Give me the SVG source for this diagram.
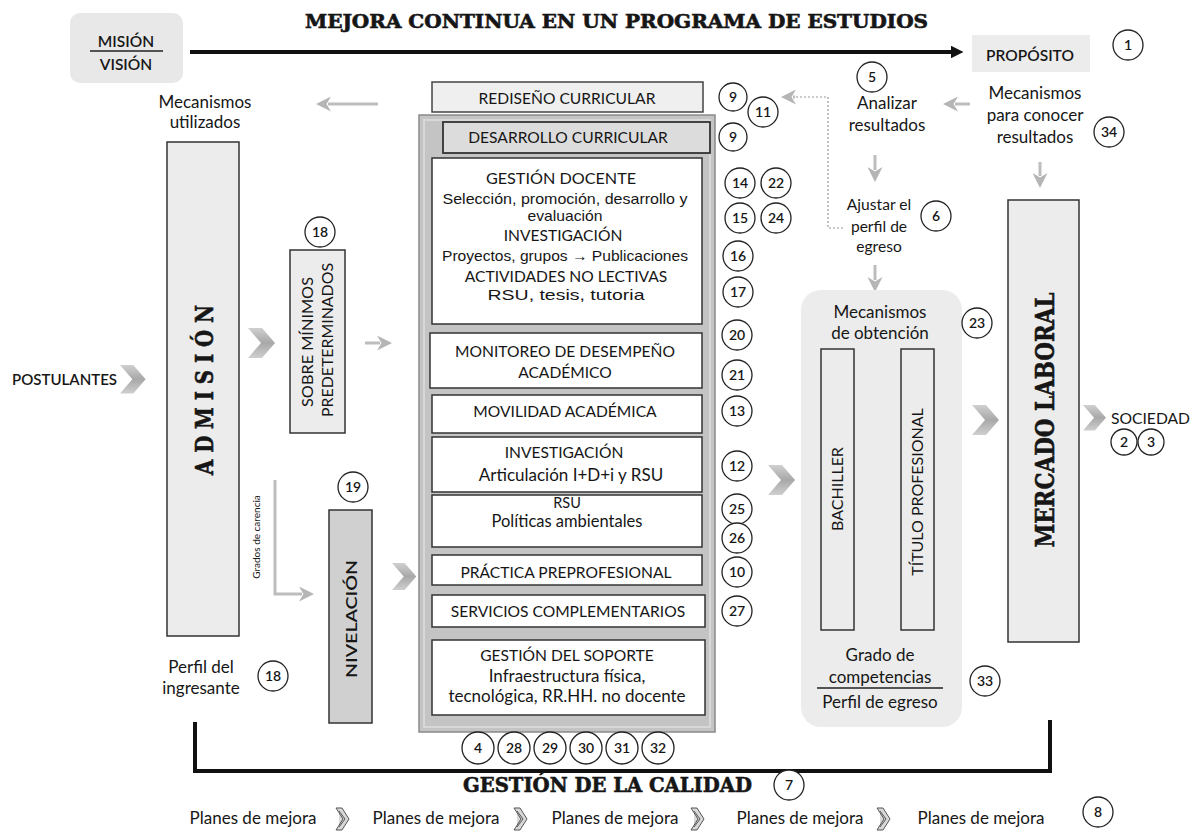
<svg xmlns="http://www.w3.org/2000/svg" width="1201" height="837" viewBox="0 0 1201 837">
<style>
text{font-family:Lato,"Open Sans",sans-serif;fill:#161616}
.slab{font-family:"DejaVu Serif",serif;font-weight:bold;stroke:#161616;stroke-width:0.6}
.cp{font-size:15.6px}
.lw{font-size:17px}
.arial{font-family:"Liberation Sans",Arial,sans-serif;font-size:15px}
.num circle{fill:#fff;stroke:#222;stroke-width:1.3}
.num text{font-size:14px;text-anchor:middle;font-weight:600}
.box{fill:#fff;stroke:#333;stroke-width:1.5}
.lbox{fill:#ececec;stroke:#333;stroke-width:1.5}
.ga{stroke:#bdbdbd;stroke-width:3;fill:none}
.dot{stroke:#9a9a9a;stroke-width:1.2;stroke-dasharray:2 2;fill:none}
.chev{fill:url(#chg)}
.pch{fill:#d8d8d8;stroke:#555;stroke-width:1}
.mid{text-anchor:middle}
</style>
<defs>
<linearGradient id="chg" x1="0" y1="0" x2="0" y2="1">
<stop offset="0" stop-color="#d0d0d0"/><stop offset="0.5" stop-color="#a8a8a8"/><stop offset="1" stop-color="#cfcfcf"/>
</linearGradient>
<marker id="gah2" viewBox="0 0 10 10" refX="2" refY="5" markerWidth="15" markerHeight="15" orient="auto" markerUnits="userSpaceOnUse">
<path d="M0,0 L10,5 L0,10 L3,5 z" fill="#b5b5b5"/>
</marker>
<marker id="bah" viewBox="0 0 10 10" refX="1" refY="5" markerWidth="3.2" markerHeight="3.2" orient="auto" markerUnits="strokeWidth">
<path d="M0,0 L10,5 L0,10 z" fill="#111"/>
</marker>
<path id="chev" d="M0,0 H14 L27,15 L14,30 H0 L13,15 Z"/>
<path id="pchev" d="M0,0 H6 L13,11 L6,22 H0 L7,11 Z M3,3 L9,11 L3,19"/>
</defs>

<text class="slab" x="305" y="28" font-size="18" textLength="623" lengthAdjust="spacingAndGlyphs">MEJORA CONTINUA EN UN PROGRAMA DE ESTUDIOS</text>

<g id="connectors">
<line x1="190" y1="52" x2="952" y2="52" stroke="#111" stroke-width="4" marker-end="url(#bah)"/>
<line x1="378" y1="104" x2="328" y2="104" class="ga" stroke-width="1.5" marker-end="url(#gah2)"/>
<line x1="970" y1="104" x2="955" y2="104" class="ga" stroke-width="3" marker-end="url(#gah2)"/>
<path class="dot" d="M843,228 H828 V97 H795"/>
<line x1="795" y1="97" x2="793" y2="97" class="ga" stroke-width="2" marker-end="url(#gah2)"/>
<line x1="875" y1="155" x2="875" y2="170" class="ga" marker-end="url(#gah2)"/>
<line x1="1040" y1="162" x2="1040" y2="176" class="ga" marker-end="url(#gah2)"/>
<line x1="875" y1="265" x2="875" y2="280" class="ga" marker-end="url(#gah2)"/>
<line x1="365" y1="343" x2="380" y2="343" class="ga" marker-end="url(#gah2)"/>
<path class="ga" d="M275,480 V594 H300" stroke-width="2.5"/>
<line x1="300" y1="594" x2="302" y2="594" class="ga" marker-end="url(#gah2)"/>
<use href="#chev" class="chev" x="120" y="365" transform="translate(120 365) scale(0.95) translate(-120 -365)"/>
<use href="#chev" class="chev" x="248" y="328"/>
<use href="#chev" class="chev" x="392" y="563" transform="translate(392 563) scale(0.9) translate(-392 -563)"/>
<use href="#chev" class="chev" x="768" y="465"/>
<use href="#chev" class="chev" x="866" y="465"/>
<use href="#chev" class="chev" x="972" y="405"/>
<use href="#chev" class="chev" x="1083" y="405" transform="translate(1083 405) scale(0.85) translate(-1083 -405)"/>
<path d="M195,722 V771 H1050 V720" fill="none" stroke="#111" stroke-width="4"/>
<use href="#pchev" class="pch" x="336" y="808"/>
<use href="#pchev" class="pch" x="514" y="808"/>
<use href="#pchev" class="pch" x="691" y="808"/>
<use href="#pchev" class="pch" x="877" y="808"/>
</g>

<g id="mision">
<rect x="70" y="13" width="113" height="70" rx="10" fill="#e8e8e8"/>
<text class="mid" x="126" y="47" font-size="15.5" font-weight="600">MISIÓN</text>
<line x1="90" y1="51" x2="163" y2="51" stroke="#222" stroke-width="1.3"/>
<text class="mid" x="126" y="70" font-size="15.5" font-weight="600">VISIÓN</text>
</g>

<g id="proposito">
<rect x="972" y="35" width="118" height="37" fill="#ececec"/>
<text class="mid" x="1030" y="61" font-size="15.5" font-weight="600">PROPÓSITO</text>
<g class="num"><circle cx="1128" cy="45" r="15"/><text x="1128" y="50">1</text></g>
</g>

<g id="mecanismos-utilizados">
<text class="mid lw" x="205" y="108">Mecanismos</text>
<text class="mid lw" x="205" y="128">utilizados</text>
</g>

<g id="analizar">
<g class="num"><circle cx="872" cy="77" r="15"/><text x="872" y="82">5</text></g>
<text class="mid lw" x="887" y="109">Analizar</text>
<text class="mid lw" x="887" y="131">resultados</text>
</g>

<g id="mecanismos-conocer">
<text class="mid lw" x="1035" y="99">Mecanismos</text>
<text class="mid lw" x="1035" y="121">para conocer</text>
<text class="mid lw" x="1035" y="143">resultados</text>
<g class="num"><circle cx="1109" cy="132" r="15"/><text x="1109" y="137">34</text></g>
</g>

<g id="ajustar">
<text class="mid" x="879" y="210" font-size="15.6">Ajustar el</text>
<text class="mid" x="879" y="232" font-size="15.6">perfil de</text>
<text class="mid" x="879" y="252" font-size="15.6">egreso</text>
<g class="num"><circle cx="936" cy="216" r="15"/><text x="936" y="221">6</text></g>
</g>

<g id="postulantes">
<text x="12" y="385" font-size="15" font-weight="600" textLength="105" lengthAdjust="spacingAndGlyphs">POSTULANTES</text>
</g>

<g id="admision">
<rect class="lbox" x="167" y="142" width="72" height="494"/>
<text class="slab mid" transform="translate(213 390) rotate(-90)" font-size="25" textLength="170" lengthAdjust="spacingAndGlyphs">A D M I S I Ó N</text>
</g>

<g id="perfil-ingresante">
<text class="mid lw" x="201" y="673">Perfil del</text>
<text class="mid lw" x="201" y="694">ingresante</text>
<g class="num"><circle cx="273" cy="676" r="15"/><text x="273" y="681">18</text></g>
</g>

<g id="sobre-minimos">
<g class="num"><circle cx="320" cy="232" r="15"/><text x="320" y="237">18</text></g>
<rect class="lbox" x="290" y="250" width="55" height="183"/>
<text class="mid" transform="translate(313 342) rotate(-90)" font-size="15" textLength="130" lengthAdjust="spacingAndGlyphs">SOBRE MÍNIMOS</text>
<text class="mid" transform="translate(333 340) rotate(-90)" font-size="15" textLength="154" lengthAdjust="spacingAndGlyphs">PREDETERMINADOS</text>
</g>

<g id="grados-carencia">
<text class="mid" transform="translate(260 537) rotate(-90)" font-size="10" fill="#444">Grados de carencia</text>
</g>

<g id="nivelacion">
<g class="num"><circle cx="353" cy="487" r="15"/><text x="353" y="492">19</text></g>
<rect x="329" y="510" width="43" height="213" fill="#d0d0d0" stroke="#333" stroke-width="1.5"/>
<text class="mid" transform="translate(357 619) rotate(-90)" font-size="16" font-weight="600" textLength="118" lengthAdjust="spacingAndGlyphs">NIVELACIÓN</text>
</g>

<g id="redisenio">
<rect x="432" y="82" width="271" height="30" fill="#efefef" stroke="#444" stroke-width="1.5"/>
<text class="mid cp" x="567" y="103.5">REDISEÑO CURRICULAR</text>
<g class="num"><circle cx="733" cy="97" r="14"/><text x="733" y="102">9</text></g>
<g class="num"><circle cx="763" cy="112" r="15"/><text x="763" y="117">11</text></g>
</g>

<g id="marco-central">
<rect x="419" y="115" width="296" height="617" fill="#c4c4c4" stroke="#8a8a8a" stroke-width="1.5"/>
<rect x="424" y="120" width="286" height="607" fill="none" stroke="#d8d8d8" stroke-width="2"/>
</g>

<g id="desarrollo">
<rect x="443" y="122" width="267" height="31" fill="#dcdcdc" stroke="#333" stroke-width="1.8"/>
<text class="mid cp" x="568" y="143">DESARROLLO CURRICULAR</text>
<g class="num"><circle cx="733" cy="137" r="14"/><text x="733" y="142">9</text></g>
</g>

<g id="gestion-docente">
<rect class="box" x="432" y="158" width="270" height="166"/>
<text class="mid" x="561" y="184" font-size="16.2">GESTIÓN DOCENTE</text>
<text class="mid arial" x="565" y="204" textLength="245" lengthAdjust="spacingAndGlyphs">Selección, promoción, desarrollo y</text>
<text class="mid arial" x="565" y="221" textLength="75" lengthAdjust="spacingAndGlyphs">evaluación</text>
<text class="mid cp" x="563" y="241">INVESTIGACIÓN</text>
<text class="mid arial" x="565" y="261" textLength="246" lengthAdjust="spacingAndGlyphs">Proyectos, grupos → Publicaciones</text>
<text class="mid cp" x="566" y="282">ACTIVIDADES NO LECTIVAS</text>
<text class="mid arial" x="566" y="300" textLength="157" lengthAdjust="spacingAndGlyphs">RSU, tesis, tutoria</text>
<g class="num"><circle cx="740" cy="183" r="15"/><text x="740" y="188">14</text></g>
<g class="num"><circle cx="776" cy="183" r="15"/><text x="776" y="188">22</text></g>
<g class="num"><circle cx="740" cy="218" r="15"/><text x="740" y="223">15</text></g>
<g class="num"><circle cx="776" cy="218" r="15"/><text x="776" y="223">24</text></g>
<g class="num"><circle cx="738" cy="256" r="15"/><text x="738" y="261">16</text></g>
<g class="num"><circle cx="738" cy="292" r="15"/><text x="738" y="297">17</text></g>
</g>

<g id="monitoreo">
<rect class="box" x="430" y="333" width="272" height="55"/>
<text class="mid cp" x="565" y="357">MONITOREO DE DESEMPEÑO</text>
<text class="mid cp" x="565" y="378">ACADÉMICO</text>
<g class="num"><circle cx="737" cy="335" r="15"/><text x="737" y="340">20</text></g>
<g class="num"><circle cx="737" cy="375" r="15"/><text x="737" y="380">21</text></g>
</g>

<g id="movilidad">
<rect class="box" x="432" y="395" width="270" height="38"/>
<text class="mid cp" x="565" y="417">MOVILIDAD ACADÉMICA</text>
<g class="num"><circle cx="737" cy="411" r="15"/><text x="737" y="416">13</text></g>
</g>

<g id="investigacion">
<rect class="box" x="432" y="437" width="270" height="55"/>
<text class="mid cp" x="564" y="458">INVESTIGACIÓN</text>
<text class="mid lw" x="571" y="481">Articulación I+D+i y RSU</text>
<g class="num"><circle cx="737" cy="466" r="15"/><text x="737" y="471">12</text></g>
</g>

<g id="rsu">
<rect class="box" x="432" y="495" width="270" height="52"/>
<text class="mid" x="567" y="508" font-size="14.5">RSU</text>
<text class="mid" x="567" y="527" font-size="16.5">Políticas ambientales</text>
<g class="num"><circle cx="737" cy="509" r="15"/><text x="737" y="514">25</text></g>
<g class="num"><circle cx="737" cy="538" r="15"/><text x="737" y="543">26</text></g>
</g>

<g id="practica">
<rect class="box" x="432" y="555" width="270" height="30"/>
<text class="mid cp" x="566" y="578">PRÁCTICA PREPROFESIONAL</text>
<g class="num"><circle cx="737" cy="572" r="15"/><text x="737" y="577">10</text></g>
</g>

<g id="servicios">
<rect class="box" x="432" y="595" width="273" height="32"/>
<text class="mid cp" x="568" y="616.5">SERVICIOS COMPLEMENTARIOS</text>
<g class="num"><circle cx="737" cy="611" r="15"/><text x="737" y="616">27</text></g>
</g>

<g id="gestion-soporte">
<rect class="box" x="432" y="640" width="273" height="75"/>
<text class="mid cp" x="567" y="661">GESTIÓN DEL SOPORTE</text>
<text class="mid lw" x="567" y="682">Infraestructura física,</text>
<text class="mid lw" x="567" y="702">tecnológica, RR.HH. no docente</text>
</g>

<g id="circulos-inferiores">
<g class="num"><circle cx="478" cy="748" r="16"/><text x="478" y="753">4</text></g>
<g class="num"><circle cx="514" cy="748" r="16"/><text x="514" y="753">28</text></g>
<g class="num"><circle cx="550" cy="748" r="16"/><text x="550" y="753">29</text></g>
<g class="num"><circle cx="586" cy="748" r="16"/><text x="586" y="753">30</text></g>
<g class="num"><circle cx="622" cy="748" r="16"/><text x="622" y="753">31</text></g>
<g class="num"><circle cx="658" cy="748" r="16"/><text x="658" y="753">32</text></g>
</g>

<g id="obtencion">
<rect x="801" y="290" width="161" height="437" rx="20" fill="#ececec"/>
<text class="mid lw" x="880" y="318">Mecanismos</text>
<text class="mid lw" x="880" y="339">de obtención</text>
<g class="num"><circle cx="977" cy="323" r="15"/><text x="977" y="328">23</text></g>
<rect class="lbox" x="821" y="349" width="33" height="281"/>
<text class="mid" transform="translate(843 489) rotate(-90)" font-size="16">BACHILLER</text>
<rect class="lbox" x="901" y="349" width="33" height="281"/>
<text class="mid" transform="translate(923 492) rotate(-90)" font-size="16">TÍTULO PROFESIONAL</text>
<text class="mid lw" x="880" y="661">Grado  de</text>
<text class="mid lw" x="880" y="683">competencias</text>
<line x1="817" y1="688" x2="943" y2="688" stroke="#222" stroke-width="1.3"/>
<text class="mid lw" x="880" y="708">Perfil de egreso</text>
<g class="num"><circle cx="985" cy="681" r="15"/><text x="985" y="686">33</text></g>
</g>

<g id="mercado">
<rect class="lbox" x="1008" y="200" width="71" height="442"/>
<text class="slab mid" transform="translate(1054 420) rotate(-90)" font-size="26" textLength="255" lengthAdjust="spacingAndGlyphs">MERCADO LABORAL</text>
</g>

<g id="sociedad">
<text x="1111" y="424" font-size="16" textLength="79" lengthAdjust="spacingAndGlyphs">SOCIEDAD</text>
<g class="num"><circle cx="1124" cy="442" r="13"/><text x="1124" y="447">2</text></g>
<g class="num"><circle cx="1151" cy="442" r="13"/><text x="1151" y="447">3</text></g>
</g>

<g id="gestion-calidad">
<text class="slab" x="463" y="792" font-size="20" textLength="289" lengthAdjust="spacingAndGlyphs">GESTIÓN DE LA CALIDAD</text>
<g class="num"><circle cx="789" cy="785" r="15"/><text x="789" y="790">7</text></g>
</g>

<g id="planes">
<text class="mid lw" x="253" y="824">Planes de mejora</text>
<text class="mid lw" x="436" y="824">Planes de mejora</text>
<text class="mid lw" x="615" y="824">Planes de mejora</text>
<text class="mid lw" x="800" y="824">Planes de mejora</text>
<text class="mid lw" x="981" y="824">Planes de mejora</text>
<g class="num"><circle cx="1098" cy="812" r="15"/><text x="1098" y="817">8</text></g>
</g>
</svg>
